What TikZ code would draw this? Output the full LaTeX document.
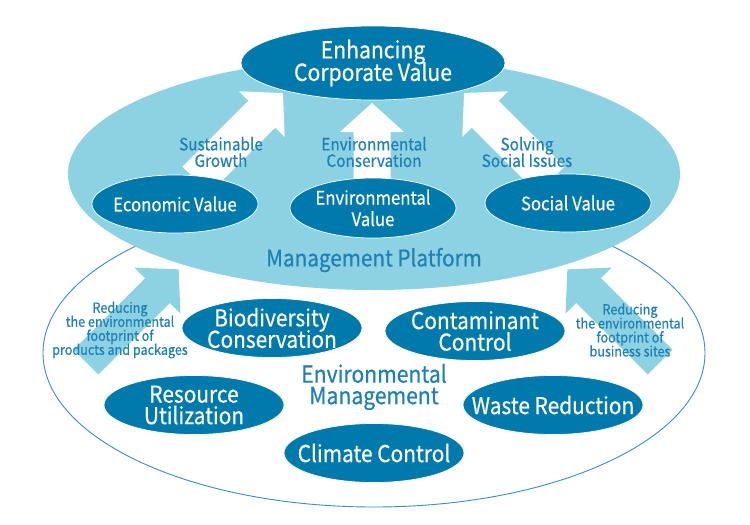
\documentclass[tikz,border=0pt]{standalone}
\usepackage{fontspec}
\setmainfont{Noto Sans CJK JP}[FakeStretch=0.9, FakeBold=0.5]
\usetikzlibrary{shapes.geometric}
\definecolor{dkblue}{HTML}{0079AD}
\definecolor{ltblue}{HTML}{8CD2E2}
\definecolor{txblue}{HTML}{1E80B4}
\definecolor{olblue}{HTML}{3B8DC0}
\newcommand\blkarrow[7]{%
  \begin{scope}[shift={(#2)},rotate=#3]
    \fill[#1] (0,-#5/2) -- ({#4-#7},-#5/2) -- ({#4-#7},-#6/2) -- (#4,0)
      -- ({#4-#7},#6/2) -- ({#4-#7},#5/2) -- (0,#5/2) -- cycle;
  \end{scope}}
\newcommand\tightfont[2]{\fontsize{#1}{#2}\selectfont\lineskiplimit=-100pt\lineskip=0pt}
\tikzset{
  darkell/.style={ellipse, fill=dkblue, draw=white, line width=0.7pt,
    inner sep=0pt},
  valell/.style={darkell, minimum width=166pt, minimum height=58pt},
  envell/.style={darkell, minimum width=180pt, minimum height=59pt},
  wtxt/.style={text=white, align=center, inner sep=0pt},
  valtxt/.style={wtxt, font=\tightfont{18.6}{21.5}},
  envtxt/.style={wtxt, font=\tightfont{23.2}{21.5}},
  lbl/.style={text=txblue, align=center, inner sep=0pt,
    font=\tightfont{17}{16.5}},
  smalllbl/.style={text=txblue, align=center, inner sep=0pt,
    font=\tightfont{14}{14}},
  biglbl/.style={text=txblue, align=center, inner sep=0pt,
    font=\tightfont{23.5}{21.5}},
}
\begin{document}
\begin{tikzpicture}[x=1pt,y=-1pt]
\useasboundingbox (0,0) rectangle (750,525);
\fill[white] (0,0) rectangle (750,525);
% outer environmental management ellipse
\draw[olblue, line width=0.9pt, fill=white] (374,353) ellipse [x radius=331, y radius=154];
% lower arrows
\blkarrow{ltblue}{86,362}{45}{131}{35}{65}{30}
\blkarrow{ltblue}{660,362}{135}{131}{35}{65}{30}
% management platform
\fill[ltblue] (374,174) ellipse [x radius=306, y radius=116];
% upper white arrows
\blkarrow{white}{196,180}{45}{123}{38}{65}{30}
\blkarrow{white}{372,190}{90}{87}{37}{64}{29}
\blkarrow{white}{551,180}{135}{123}{38}{65}{30}
% top ellipse
\node[darkell, minimum width=264pt, minimum height=74pt] (top) at (373,63) {};
\node[wtxt, font=\tightfont{23.5}{22.5}] (topt) at (top) {Enhancing\\Corporate Value};
% value ellipses
\node[valell] (eco) at (175,204) {};
\node[valtxt] (ecot) at (eco) {Economic Value};
\node[valell, minimum height=60pt] (env) at (373,208) {};
\node[valtxt] (envt) at (env) {Environmental\\Value};
\node[valell] (soc) at (568,203) {};
\node[valtxt] (soct) at (soc) {Social Value};
% labels on arrows
\node[lbl] (sg) at (221,152) {Sustainable\\Growth};
\node[lbl] (ec) at (374,152) {Environmental\\Conservation};
\node[lbl] (ss) at (527,152) {Solving\\Social Issues};
\node[text=txblue, inner sep=0pt, font=\tightfont{23}{22}] (mp) at (374,260) {Management Platform};
% lower ellipses
\node[envell] (bio) at (272,328) {};
\node[envtxt] (biot) at (bio) {Biodiversity\\Conservation};
\node[envell] (con) at (475,331) {};
\node[envtxt] (cont) at (con) {Contaminant\\Control};
\node[envell] (res) at (194,405) {};
\node[envtxt] (rest) at (res) {Resource\\Utilization};
\node[envell] (was) at (553,405) {};
\node[envtxt] (wast) at (was) {Waste Reduction};
\node[envell] (cli) at (374,453) {};
\node[envtxt] (clit) at (cli) {Climate Control};
\node[biglbl] (em) at (374,387) {Environmental\\Management};
\node[smalllbl] (lt) at (120,330) {Reducing\\the environmental\\footprint of\\products and packages};
\node[smalllbl] (rt) at (630,330) {Reducing\\the environmental\\footprint of\\business sites};
\end{tikzpicture}
\end{document}
